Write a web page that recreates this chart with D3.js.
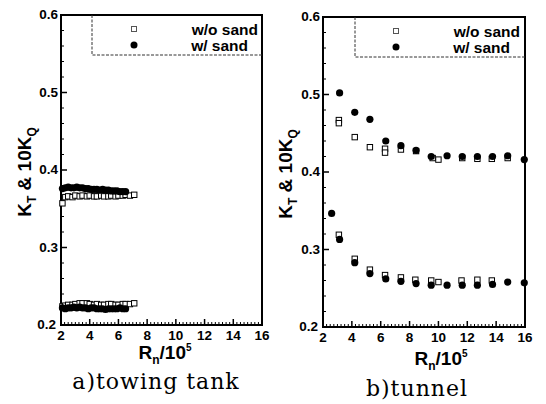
<!DOCTYPE html>
<html>
<head>
<meta charset="utf-8">
<script src="https://cdn.jsdelivr.net/npm/d3@7"></script>
<style>
  body { margin: 0; background: #fff; }
  svg { display: block; }
  .tick-label { font-family: "Liberation Sans", Arial, sans-serif; font-weight: bold; font-size: 13.5px; }
  .axis-title { font-family: "Liberation Sans", Arial, sans-serif; font-weight: bold; font-size: 19px; }
  .legend-text { font-family: "Liberation Sans", Arial, sans-serif; font-weight: bold; font-size: 15.5px; }
  .caption { font-family: "DejaVu Serif", serif; font-size: 22px; letter-spacing: 1px; }
</style>
</head>
<body>
<svg id="chart" width="546" height="404"></svg>
<script>
// ---- tick labels ----
const xTicks = [2, 4, 6, 8, 10, 12, 14, 16];
const yTicks = [0.2, 0.3, 0.4, 0.5, 0.6];
const seriesNames = ["w/o sand", "w/ sand"];

// ---- a) towing tank ----
const tankRnWo   = [2.1, 2.3, 2.5, 2.8, 3.0, 3.3, 3.5, 3.8, 4.0, 4.3, 4.5, 4.8, 5.0, 5.3, 5.5, 5.8, 6.0, 6.3, 6.5, 6.8, 7.1];
const tankKtWo   = [0.357, 0.365, 0.366, 0.365, 0.367, 0.366, 0.367, 0.366, 0.367, 0.366, 0.366, 0.367, 0.366, 0.366, 0.367, 0.366, 0.367, 0.367, 0.368, 0.367, 0.368];
const tankKqWo   = [0.224, 0.225, 0.226, 0.226, 0.227, 0.228, 0.228, 0.228, 0.227, 0.226, 0.227, 0.226, 0.226, 0.227, 0.227, 0.226, 0.226, 0.227, 0.227, 0.227, 0.228];
const tankRnW    = [2.1, 2.3, 2.5, 2.7, 2.9, 3.1, 3.3, 3.5, 3.7, 3.9, 4.1, 4.3, 4.5, 4.7, 4.9, 5.1, 5.3, 5.5, 5.7, 5.9, 6.1, 6.3, 6.5];
const tankKtW    = [0.376, 0.377, 0.378, 0.377, 0.377, 0.378, 0.377, 0.377, 0.376, 0.376, 0.375, 0.375, 0.375, 0.374, 0.375, 0.374, 0.374, 0.373, 0.373, 0.373, 0.372, 0.372, 0.372];
const tankKqW    = [0.222, 0.221, 0.222, 0.222, 0.223, 0.222, 0.223, 0.222, 0.222, 0.221, 0.222, 0.222, 0.221, 0.221, 0.221, 0.220, 0.221, 0.221, 0.221, 0.221, 0.222, 0.221, 0.221];

// ---- b) tunnel ----
const tunnelRnKtWo = [3.1, 3.1, 4.2, 5.25, 6.3, 6.3, 7.4, 8.45, 9.6, 10.0, 11.65, 12.7, 13.7, 14.8];
const tunnelKtWo   = [0.467, 0.463, 0.445, 0.432, 0.430, 0.425, 0.429, 0.427, 0.418, 0.416, 0.418, 0.417, 0.417, 0.418];
const tunnelRnKqWo = [3.1, 4.2, 5.25, 6.3, 7.4, 8.4, 9.5, 10.0, 11.6, 12.7, 13.7];
const tunnelKqWo   = [0.319, 0.288, 0.274, 0.267, 0.264, 0.261, 0.260, 0.258, 0.260, 0.261, 0.260];
const tunnelRnKtW  = [3.15, 4.2, 5.25, 6.35, 7.4, 8.45, 9.5, 10.6, 11.65, 12.7, 13.75, 14.8, 15.95];
const tunnelKtW    = [0.502, 0.477, 0.468, 0.440, 0.434, 0.428, 0.420, 0.421, 0.420, 0.420, 0.420, 0.421, 0.416];
const tunnelRnKqW  = [2.6, 3.15, 4.2, 5.25, 6.35, 7.4, 8.45, 9.5, 10.6, 11.65, 12.7, 13.75, 14.8, 15.95];
const tunnelKqW    = [0.3465, 0.313, 0.283, 0.269, 0.262, 0.259, 0.256, 0.254, 0.254, 0.254, 0.254, 0.255, 0.258, 0.257];

const zip = (xs, ys) => xs.map((x, i) => [x, ys[i]]);

const svg = d3.select("#chart");

const panels = [
  {
    left: 61, right: 262, top: 15, bottom: 325,
    legend: { x0: 92, y1: 55, mx: 134, tx: 258, ty: [30, 46] },
    open: zip(tankRnWo, tankKtWo).concat(zip(tankRnWo, tankKqWo)),
    filled: zip(tankRnW, tankKtW).concat(zip(tankRnW, tankKqW)),
    xlab: { x: 165, y: 359 }, ylab: { x: 31, y: 172 },
    caption: { text: "a)towing tank", x: 156, y: 389 }
  },
  {
    left: 323, right: 525, top: 17, bottom: 327,
    legend: { x0: 355, y1: 57, mx: 396, tx: 520, ty: [32, 48] },
    open: zip(tunnelRnKtWo, tunnelKtWo).concat(zip(tunnelRnKqWo, tunnelKqWo)),
    filled: zip(tunnelRnKtW, tunnelKtW).concat(zip(tunnelRnKqW, tunnelKqW)),
    xlab: { x: 441, y: 365 }, ylab: { x: 292, y: 174 },
    caption: { text: "b)tunnel", x: 417, y: 396 }
  }
];

panels.forEach(p => drawPanel(p));

function drawPanel(p) {
  const x = d3.scaleLinear().domain([2, 16]).range([p.left, p.right]);
  const y = d3.scaleLinear().domain([0.2, 0.6]).range([p.bottom, p.top]);
  const g = svg.append("g");

  // minor + major ticks (inward)
  const xMinor = d3.range(2, 16.001, 0.25).filter(v => Math.abs(v % 2) > 1e-6);
  const yMinor = d3.range(0.2, 0.6001, 0.02).filter(v => Math.abs(Math.round(v * 10) - v * 10) > 1e-6);

  g.selectAll(".xminor").data(xMinor).enter().append("line")
    .attr("x1", d => x(d)).attr("x2", d => x(d))
    .attr("y1", p.bottom).attr("y2", p.bottom - 3)
    .attr("stroke", "#000").attr("stroke-width", 1);
  g.selectAll(".xmajor").data(xTicks).enter().append("line")
    .attr("x1", d => x(d)).attr("x2", d => x(d))
    .attr("y1", p.bottom).attr("y2", p.bottom - 6)
    .attr("stroke", "#000").attr("stroke-width", 1.5);
  g.selectAll(".yminor").data(yMinor).enter().append("line")
    .attr("x1", p.left).attr("x2", p.left + 3)
    .attr("y1", d => y(d)).attr("y2", d => y(d))
    .attr("stroke", "#000").attr("stroke-width", 1);
  g.selectAll(".ymajor").data(yTicks).enter().append("line")
    .attr("x1", p.left).attr("x2", p.left + 6)
    .attr("y1", d => y(d)).attr("y2", d => y(d))
    .attr("stroke", "#000").attr("stroke-width", 1.5);

  // frame
  g.append("rect")
    .attr("x", p.left).attr("y", p.top)
    .attr("width", p.right - p.left).attr("height", p.bottom - p.top)
    .attr("fill", "none").attr("stroke", "#000").attr("stroke-width", 2);

  // tick labels
  g.selectAll(".xl").data(xTicks).enter().append("text")
    .attr("class", "tick-label")
    .attr("x", d => x(d)).attr("y", p.bottom + 15)
    .attr("text-anchor", "middle")
    .text(d => d);
  g.selectAll(".yl").data(yTicks).enter().append("text")
    .attr("class", "tick-label")
    .attr("x", d => d === 0.2 ? p.left - 5 : p.left - 3)
    .attr("y", d => y(d) + 4)
    .attr("text-anchor", "end")
    .text(d => d.toFixed(1));

  // legend box (dashed left & bottom)
  const lg = p.legend;
  g.append("path")
    .attr("d", `M${lg.x0},${p.top} L${lg.x0},${lg.y1} L${p.right},${lg.y1}`)
    .attr("fill", "none").attr("stroke", "#333").attr("stroke-width", 1)
    .attr("stroke-dasharray", "3,1.5");
  g.append("rect")
    .attr("x", lg.mx - 2.5).attr("y", lg.ty[0] - 3.5)
    .attr("width", 5).attr("height", 5)
    .attr("fill", "#fff").attr("stroke", "#555").attr("stroke-width", 1);
  g.append("circle")
    .attr("cx", lg.mx).attr("cy", lg.ty[1] - 1).attr("r", 3.5)
    .attr("fill", "#000");
  seriesNames.forEach((s, i) => {
    g.append("text").attr("class", "legend-text")
      .attr("x", i === 0 ? lg.tx : lg.tx - 10).attr("y", lg.ty[i] + 5)
      .attr("text-anchor", "end").text(s);
  });

  // data: open squares first, filled circles on top
  g.selectAll(".sq").data(p.open).enter().append("rect")
    .attr("x", d => x(d[0]) - 2.7).attr("y", d => y(d[1]) - 2.7)
    .attr("width", 5.4).attr("height", 5.4)
    .attr("fill", "#fff").attr("stroke", "#000").attr("stroke-width", 1);
  g.selectAll(".ci").data(p.filled).enter().append("circle")
    .attr("cx", d => x(d[0])).attr("cy", d => y(d[1])).attr("r", 3.6)
    .attr("fill", "#000");

  // axis titles
  const xt = g.append("text").attr("class", "axis-title")
    .attr("x", p.xlab.x).attr("y", p.xlab.y).attr("text-anchor", "middle");
  xt.append("tspan").text("R");
  xt.append("tspan").attr("dy", 5).attr("font-size", 12).text("n");
  xt.append("tspan").attr("dy", -5).text("/10");
  xt.append("tspan").attr("dy", -8).attr("font-size", 10).text("5");

  const yt = g.append("text").attr("class", "axis-title")
    .attr("transform", `translate(${p.ylab.x},${p.ylab.y}) rotate(-90)`)
    .attr("text-anchor", "middle");
  yt.append("tspan").text("K");
  yt.append("tspan").attr("dy", 5).attr("font-size", 12).text("T");
  yt.append("tspan").attr("dy", -5).text(" & 10K");
  yt.append("tspan").attr("dy", 5).attr("font-size", 12).text("Q");

  // caption
  svg.append("text").attr("class", "caption")
    .attr("x", p.caption.x).attr("y", p.caption.y)
    .attr("text-anchor", "middle").text(p.caption.text);
}
</script>
</body>
</html>
